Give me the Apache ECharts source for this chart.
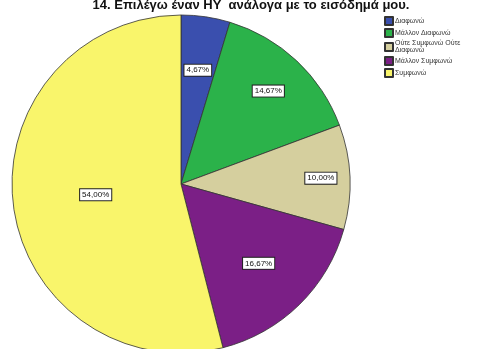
<!DOCTYPE html>
<html><head><meta charset="utf-8">
<script src="https://cdn.jsdelivr.net/npm/echarts@6/dist/echarts.min.js"></script>
<style>html,body{margin:0;padding:0;background:#fff}#c{width:491px;height:349px}</style>
</head><body><div id="c"></div>
<script>
var categories = ['Διαφωνώ', 'Μάλλον Διαφωνώ', 'Ούτε Συμφωνώ Ούτε\nΔιαφωνώ', 'Μάλλον Συμφωνώ', 'Συμφωνώ'];
var values = [4.67, 14.67, 10.00, 16.67, 54.00];
var colors = ['#3a4fae', '#2bb24a', '#d5cf9e', '#7b1f86', '#f9f56b'];
var titleText = '14. Επιλέγω έναν ΗΥ  ανάλογα με το εισόδημά μου.';

// inner radius for each label ring (label sits midway between it and the outer radius)
var labelInner = [55, 80, 105, 47, 0];
var R = 169, C = [181, 184];

var data = categories.map(function(c, i){ return {name: c, value: values[i], itemStyle:{color: colors[i]}}; });

var series = [{
  type: 'pie', center: C, radius: [0, R], startAngle: 90, clockwise: true,
  data: data, label: {show: false}, labelLine: {show: false},
  itemStyle: {borderColor: '#333', borderWidth: 0.8}, silent: true
}];
labelInner.forEach(function(r0, k){
  series.push({
    type: 'pie', center: C, radius: [r0, k === 4 ? R - 3 : R], startAngle: 90, clockwise: true,
    silent: true, legendHoverLink: false,
    data: categories.map(function(c, i){ return {name: c, value: values[i], label: {show: i === k}}; }),
    itemStyle: {color: 'rgba(0,0,0,0)', borderWidth: 0},
    labelLine: {show: false},
    label: {position: 'inside', fontFamily: 'Liberation Sans, Arial', fontSize: 8, color: '#111',
      backgroundColor: '#fff', borderColor: '#222', borderWidth: 1, padding: [2, 2, 1, 2],
      formatter: function(p){ return p.value.toFixed(2).replace('.', ',') + '%'; }}
  });
});

var chart = echarts.init(document.getElementById('c'), null, {renderer:'canvas'});
chart.setOption({
  animation: false,
  title: {text: titleText, left: 246, textAlign: 'center', top: -6,
    textStyle: {fontFamily: 'Liberation Sans, Arial', fontSize: 13, fontWeight: 'bold', color: '#111'}},
  legend: {orient: 'vertical', left: 384, top: 16, padding: 0, itemWidth: 8, itemHeight: 8, itemGap: 2,
    icon: 'rect', selectedMode: false,
    data: categories,
    textStyle: {fontFamily: 'Liberation Sans, Arial', fontSize: 7, color: '#333', padding: [0,0,0,-3], lineHeight: 7}},
  series: series
});
</script></body></html>
